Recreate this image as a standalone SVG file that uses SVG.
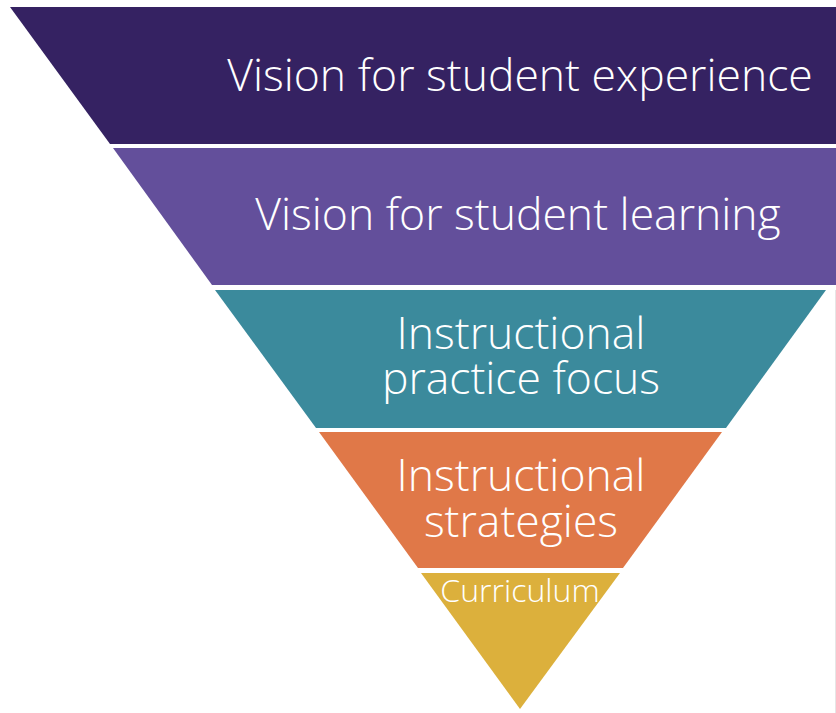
<svg xmlns="http://www.w3.org/2000/svg" width="836" height="713" viewBox="0 0 836 713">
<style>
.lbl{font-family:"Open Sans","Noto Sans","Liberation Sans",sans-serif;fill:#ffffff;text-anchor:middle;font-weight:300}
.big{font-size:44.5px}
.small{font-size:32px}
</style>
<rect width="836" height="713" fill="#ffffff"/>
<g id="band-experience">
<polygon points="10,7 836,7 836,144 110,144" fill="#352262"/>
<text class="lbl big" x="520" y="91">Vision for student experience</text>
</g>
<g id="band-learning">
<polygon points="113,148 836,148 836,285 212,285" fill="#634f9b"/>
<text class="lbl big" x="518" y="230">Vision for student learning</text>
</g>
<g id="band-practice">
<polygon points="215,290 826,290 726,428 316,428" fill="#3b8a9c"/>
<text class="lbl big" x="521" y="349">Instructional</text>
<text class="lbl big" x="521" y="394">practice focus</text>
</g>
<g id="band-strategies">
<polygon points="319,432 722,432 623,568 418,568" fill="#e07848"/>
<text class="lbl big" x="521" y="491">Instructional</text>
<text class="lbl big" x="521" y="537">strategies</text>
</g>
<g id="band-curriculum">
<polygon points="421,573 620,573 520,709" fill="#dcb03c"/>
<text class="lbl small" x="520" y="602">Curriculum</text>
</g>
<g id="connectors"></g>
<line x1="835.5" y1="290" x2="835.5" y2="713" stroke="#e6e6e6" stroke-width="1"/>
</svg>
